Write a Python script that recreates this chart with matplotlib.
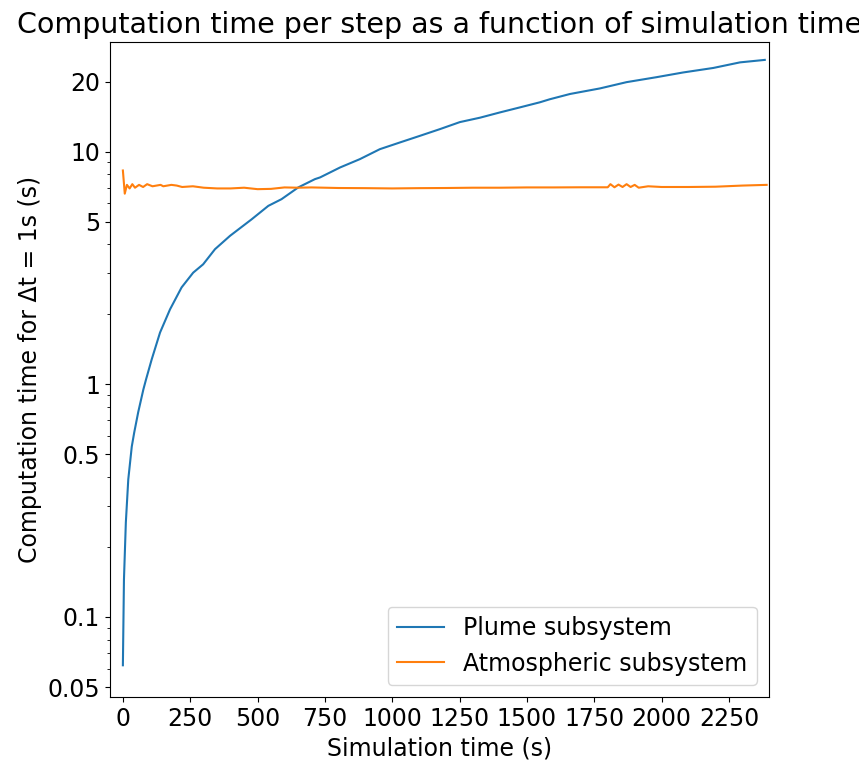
import matplotlib
matplotlib.use("Agg")
import matplotlib.pyplot as plt
import matplotlib.ticker as ticker

# simulation time (s) and computation time per step (s)
plume_t = [0, 4, 11, 20, 33, 42, 57, 76, 86, 107, 138, 175, 218, 261, 298, 342,
           398, 478, 540, 589, 651, 713, 732, 806, 880, 954, 1029, 1103, 1177,
           1251, 1326, 1400, 1474, 1548, 1585, 1660, 1771, 1870, 1981, 2080,
           2192, 2291, 2383]
plume_cost = [0.062, 0.145, 0.255, 0.39, 0.54, 0.62, 0.76, 0.95, 1.05, 1.28,
              1.67, 2.10, 2.61, 3.02, 3.28, 3.81, 4.35, 5.12, 5.85, 6.25, 7.02,
              7.62, 7.75, 8.55, 9.29, 10.25, 10.96, 11.7, 12.5, 13.4, 14.0,
              14.75, 15.5, 16.3, 16.8, 17.7, 18.7, 19.9, 20.9, 21.9, 22.9,
              24.2, 24.8]

atmo_t = [0, 7, 15, 25, 35, 45, 60, 75, 90, 110, 140, 150, 180, 200, 220, 260,
          300, 350, 400, 450, 500, 550, 600, 650, 700, 750, 800, 900, 1000,
          1100, 1200, 1300, 1400, 1500, 1600, 1700, 1800, 1810, 1825, 1840,
          1855, 1870, 1885, 1900, 1915, 1950, 2000, 2100, 2200, 2300, 2390]
atmo_cost = [8.3, 6.6, 7.2, 6.95, 7.25, 7.0, 7.2, 7.05, 7.25, 7.1, 7.2, 7.1,
             7.2, 7.15, 7.05, 7.1, 7.0, 6.95, 6.95, 7.0, 6.9, 6.92, 7.02, 7.0,
             7.02, 7.0, 6.98, 6.97, 6.95, 6.97, 6.98, 7.0, 7.0, 7.02, 7.02,
             7.03, 7.03, 7.25, 7.03, 7.22, 7.05, 7.25, 7.05, 7.2, 7.0, 7.1,
             7.05, 7.05, 7.07, 7.15, 7.2]

ytick_vals = [0.05, 0.1, 0.5, 1, 5, 10, 20]
ytick_labels = ["0.05", "0.1", "0.5", "1", "5", "10", "20"]

plt.rcParams['font.size'] = 17

fig = plt.figure(figsize=(8.59, 7.62), dpi=100)
ax = fig.add_axes([0.128, 0.0853, 0.767, 0.86])

ax.plot(plume_t, plume_cost, color='#1f77b4', lw=1.5, label='Plume subsystem')
ax.plot(atmo_t, atmo_cost, color='#ff7f0e', lw=1.5, label='Atmospheric subsystem')

ax.set_yscale('log')
ax.set_xlim(-48, 2398)
ax.set_ylim(0.0453, 29.7)
ax.set_yticks(ytick_vals)
ax.set_yticklabels(ytick_labels)
ax.yaxis.set_minor_formatter(ticker.NullFormatter())
ax.set_xticks(range(0, 2251, 250))

ax.set_xlabel('Simulation time (s)')
ax.set_ylabel('Computation time for Δt = 1s (s)')
ax.set_title('Computation time per step as a function of simulation time', fontsize=20.5)
ax.legend(loc='lower right')

plt.savefig('out.png', dpi=100)
